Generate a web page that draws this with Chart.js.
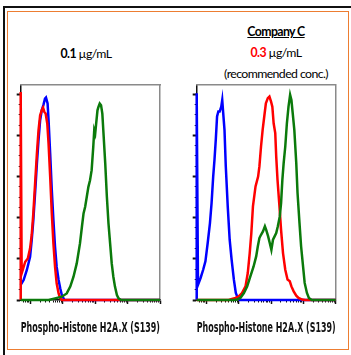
<!DOCTYPE html>
<html>
<head>
<meta charset="utf-8">
<script src="https://cdn.jsdelivr.net/npm/chart.js@4.4.1/dist/chart.umd.min.js"></script>
<style>
  html, body { margin: 0; padding: 0; background: #fff; width: 351px; height: 355px; overflow: hidden; position: relative; }
  .frame-black { position: absolute; left: 3px; top: 6px; width: 400px; height: 400px; border-left: 2px solid #111; border-top: 2px solid #111; }
  .frame-orange { position: absolute; left: 6.5px; top: 11px; width: 340px; height: 337px; border: 1.5px solid #ed7d31; }
  .plot { position: absolute; top: 70px; width: 175px; height: 270px; }
  .title { position: absolute; width: 120px; font-family: Lato, "Open Sans", sans-serif; font-size: 12.3px; letter-spacing: -0.6px; color: #000; text-align: center; white-space: nowrap; line-height: 21px; }
</style>
</head>
<body>
<div class="frame-black"></div>
<div class="frame-orange"></div>

<div class="title" style="left:26px; top:43px;"><b>0.1</b> µg/mL</div>
<div class="title" style="left:216px; top:21px;">
  <b><u>Company C</u></b><br>
  <b style="color:#ff0000">0.3</b> µg/mL<br>
  (recommended conc.)
</div>

<canvas id="left" class="plot" width="175" height="270" style="left:0px"></canvas>
<canvas id="right" class="plot" width="175" height="270" style="left:175px"></canvas>

<script>
// x is fluorescence in log10 decades, y is event count
const xMin = 0.7, xMax = 5.0;
const yMax = 1045;
const xLabel = 'Phospho-Histone H2A.X (S139)';

// 0.1 ug/mL panel
const leftBlueX = [0.70, 0.79, 0.89, 0.99, 1.04, 1.09, 1.15, 1.20, 1.25, 1.30, 1.35, 1.40, 1.45, 1.48, 1.53, 1.56, 1.61, 1.66, 1.71, 1.76, 1.81, 1.87, 1.92, 1.97, 2.05, 5.00];
const leftBlueY = [73, 97, 146, 210, 291, 388, 534, 663, 777, 874, 922, 947, 979, 984, 955, 874, 712, 534, 388, 259, 162, 97, 57, 24, 0, 0];
const leftRedX = [0.70, 0.70, 0.73, 0.84, 0.92, 0.99, 1.04, 1.09, 1.15, 1.20, 1.25, 1.30, 1.35, 1.39, 1.43, 1.47, 1.52, 1.56, 1.61, 1.66, 1.71, 1.76, 1.81, 1.87, 1.92, 1.97, 5.00];
const leftRedY = [0, 1011, 129, 186, 202, 251, 316, 421, 582, 712, 825, 898, 922, 935, 914, 906, 858, 760, 599, 421, 275, 162, 81, 32, 8, 0, 0];
const leftGreenX = [0.70, 1.56, 1.76, 1.97, 2.12, 2.23, 2.33, 2.43, 2.53, 2.59, 2.64, 2.69, 2.74, 2.79, 2.84, 2.89, 2.94, 2.97, 3.00, 3.03, 3.07, 3.10, 3.14, 3.18, 3.22, 3.25, 3.31, 3.36, 3.41, 3.46, 3.51, 3.56, 3.61, 3.67, 3.72, 3.80, 5.00];
const leftGreenY = [0, 0, 8, 16, 32, 65, 113, 178, 275, 356, 421, 453, 502, 550, 582, 631, 744, 825, 809, 858, 922, 938, 955, 947, 906, 825, 663, 502, 372, 275, 178, 113, 65, 24, 8, 0, 0];

// Company C 0.3 ug/mL panel
const rightBlueX = [0.70, 0.70, 0.74, 0.82, 0.90, 0.97, 1.04, 1.11, 1.16, 1.21, 1.25, 1.29, 1.33, 1.37, 1.41, 1.46, 1.49, 1.52, 1.56, 1.60, 1.66, 1.72, 1.78, 1.85, 1.91, 1.97, 2.03, 5.00];
const rightBlueY = [0, 1005, 74, 107, 147, 188, 277, 374, 471, 600, 681, 778, 892, 916, 916, 940, 972, 908, 827, 649, 455, 293, 196, 99, 34, 10, 0, 0];
const rightRedX = [0.70, 1.69, 1.79, 1.90, 2.00, 2.10, 2.21, 2.28, 2.34, 2.39, 2.44, 2.52, 2.60, 2.64, 2.69, 2.74, 2.79, 2.84, 2.90, 2.95, 3.00, 3.04, 3.08, 3.13, 3.16, 3.20, 3.26, 3.31, 3.37, 3.44, 3.51, 3.58, 3.63, 3.70, 3.78, 3.85, 3.96, 4.06, 5.00];
const rightRedY = [0, 0, 5, 10, 18, 34, 66, 131, 228, 325, 455, 552, 600, 649, 746, 827, 892, 956, 981, 989, 964, 940, 859, 811, 697, 584, 455, 341, 228, 147, 99, 91, 66, 42, 21, 10, 2, 0, 0];
const rightGreenX = [0.70, 1.85, 1.95, 2.05, 2.16, 2.26, 2.36, 2.46, 2.54, 2.59, 2.64, 2.69, 2.75, 2.81, 2.85, 2.91, 2.96, 3.01, 3.06, 3.11, 3.16, 3.21, 3.27, 3.31, 3.35, 3.39, 3.44, 3.49, 3.54, 3.59, 3.63, 3.67, 3.72, 3.78, 3.82, 3.88, 3.93, 3.99, 4.04, 4.11, 4.17, 4.26, 5.00];
const rightGreenY = [0, 0, 2, 10, 34, 66, 115, 163, 212, 260, 301, 317, 333, 358, 341, 309, 277, 244, 293, 309, 325, 358, 406, 471, 584, 665, 746, 859, 940, 997, 972, 908, 827, 665, 519, 374, 260, 163, 83, 34, 10, 0, 0];

const blue = '#0000ff', red = '#ff0000', green = '#0b7a0b';

// log axis tick marks: decades plus 2..9 in between
const xTicks = [];
for (let d = 0; d < 5; d++) {
  for (let k = 1; k <= 9; k++) {
    const v = d + Math.log10(k);
    if (v >= xMin - 1e-9 && v <= xMax + 1e-9) xTicks.push(v);
  }
}
xTicks.push(5);
const yTicks = [];
for (let v = 0; v <= 1000; v += 50) yTicks.push(v);

const isMajorX = t => t && Math.abs(t.value - Math.round(t.value)) < 1e-6;
const isMajorY = t => t && t.value % 200 === 0;

function pts(xs, ys) {
  return xs.map((x, i) => ({ x: x, y: ys[i] }));
}

function line(xs, ys, color) {
  return {
    data: pts(xs, ys),
    borderColor: color,
    borderWidth: 2.5,
    pointRadius: 0,
    tension: 0,
    fill: false,
    clip: 4
  };
}

function makeChart(id, green_, red_, blue_, yWidth, padRight) {
  new Chart(document.getElementById(id), {
    type: 'line',
    data: { datasets: [green_, red_, blue_] },
    options: {
      responsive: false,
      animation: false,
      layout: { padding: { left: 0, right: padRight, top: 15, bottom: 0 } },
      plugins: { legend: { display: false }, tooltip: { enabled: false } },
      scales: {
        x: {
          type: 'linear', position: 'bottom', min: xMin, max: xMax,
          afterBuildTicks: s => { s.ticks = xTicks.map(v => ({ value: v })); },
          afterFit: s => { s.height = 40; },
          ticks: { display: false },
          grid: {
            drawOnChartArea: false, tickLength: 4, tickColor: '#111',
            tickWidth: c => isMajorX(c.tick) ? 1.5 : 1,
            tickBorderDash: c => isMajorX(c.tick) ? [] : [2, 10]
          },
          border: { color: '#111', width: 1.5 },
          title: {
            display: true, text: xLabel, color: '#111',
            font: { family: "'Liberation Sans Narrow', 'DejaVu Sans Condensed', sans-serif", size: 13.8, weight: 'bold' },
            padding: { top: 0, bottom: 3.7 }
          }
        },
        y: {
          type: 'linear', position: 'left', min: 0, max: yMax,
          afterBuildTicks: s => { s.ticks = yTicks.map(v => ({ value: v })); },
          afterFit: s => { s.width = yWidth; },
          ticks: { display: false },
          grid: {
            drawOnChartArea: false, tickLength: 4, tickColor: '#111',
            tickWidth: c => isMajorY(c.tick) ? 2 : 1,
            tickBorderDash: c => isMajorY(c.tick) ? [] : [0, 2, 10]
          },
          border: { color: '#111', width: 1.5 }
        },
        xTop: {
          type: 'linear', position: 'top',
          afterFit: s => { s.height = 0; },
          ticks: { display: false }, grid: { display: false },
          border: { color: '#8a8a8a', width: 1.5 }
        },
        yRight: {
          type: 'linear', position: 'right',
          afterFit: s => { s.width = 0; },
          ticks: { display: false }, grid: { display: false },
          border: { color: '#8a8a8a', width: 1.5 }
        }
      }
    }
  });
}

makeChart('left',
  line(leftGreenX, leftGreenY, green),
  line(leftRedX, leftRedY, red),
  line(leftBlueX, leftBlueY, blue),
  20.7, 15);

makeChart('right',
  line(rightGreenX, rightGreenY, green),
  line(rightRedX, rightRedY, red),
  line(rightBlueX, rightBlueY, blue),
  21.7, 14.3);
</script>
</body>
</html>
